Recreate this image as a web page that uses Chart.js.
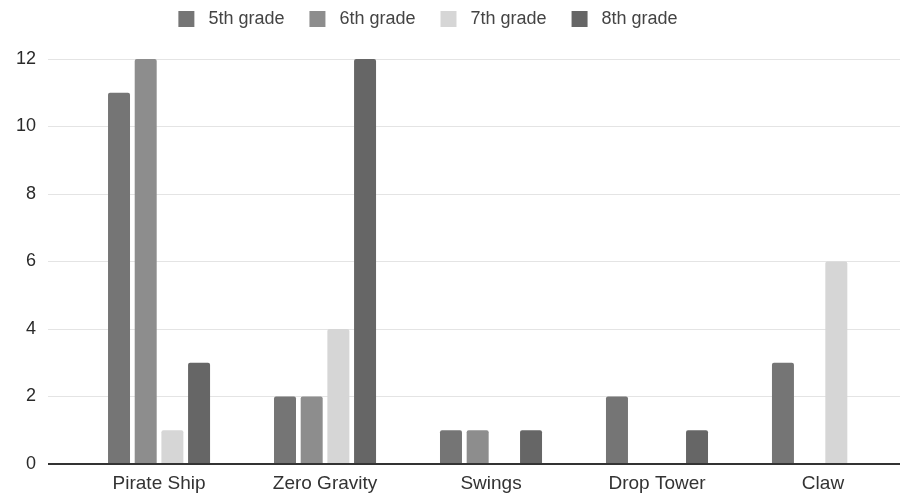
<!DOCTYPE html>
<html lang="en">
<head>
    <meta charset="UTF-8">
    <title>Favorite rides by grade</title>
    <script src="https://cdn.jsdelivr.net/npm/chart.js"></script>
    <style>
        body {
            margin: 0;
            background: #fff;
        }
        #wrap {
            width: 900px;
            height: 496px;
        }
    </style>
</head>
<body>
    <div id="wrap"><canvas id="chart"></canvas></div>

    <script>
        const rides = ['Pirate Ship', 'Zero Gravity', 'Swings', 'Drop Tower', 'Claw'];
        const grades = ['5th grade', '6th grade', '7th grade', '8th grade'];
        const grade5 = [11, 2, 1, 2, 3];
        const grade6 = [12, 2, 1, 0, 0];
        const grade7 = [1, 4, 0, 0, 6];
        const grade8 = [3, 12, 1, 1, 0];
        const yTicks = [0, 2, 4, 6, 8, 10, 12];

        const colors = ['#757575', '#8d8d8d', '#d6d6d6', '#666666'];
        const series = [grade5, grade6, grade7, grade8];

        const datasets = series.map((vals, i) => ({
            label: grades[i],
            data: vals.map((v, k) => ({ x: k, y: v })),
            backgroundColor: colors[i],
            borderRadius: 2,
            borderSkipped: 'bottom',
            categoryPercentage: 0.643,
            barPercentage: 0.824
        }));

        const font = "'Liberation Sans', Arial, sans-serif";
        const legendPad = 25;

        // legend: put the row near the top, leave room down to the plot, shift a bit left
        const legendPlace = {
            id: 'legendPlace',
            beforeInit(chart) {
                const lg = chart.legend;
                const fit = lg.fit;
                lg.fit = function () {
                    fit.call(this);
                    this.height = 59;
                };
            },
            afterLayout(chart) {
                const lg = chart.legend;
                lg.left -= 22;
                lg.right -= 22;
                lg.top = 10 - legendPad;
            }
        };

        new Chart(document.getElementById('chart'), {
            type: 'bar',
            data: { datasets: datasets },
            plugins: [legendPlace],
            options: {
                responsive: true,
                maintainAspectRatio: false,
                animation: false,
                layout: { padding: 0 },
                plugins: {
                    tooltip: { enabled: false },
                    legend: {
                        position: 'top',
                        labels: {
                            boxWidth: 16,
                            boxHeight: 16,
                            padding: legendPad,
                            color: '#444',
                            font: { family: font, size: 18 },
                            generateLabels: chart => Chart.defaults.plugins.legend.labels.generateLabels(chart)
                                .map(l => Object.assign(l, { text: ' ' + l.text }))
                        }
                    }
                },
                scales: {
                    x: {
                        type: 'linear',
                        offset: false,
                        min: -0.669,
                        max: 4.464,
                        afterBuildTicks: s => { s.ticks = rides.map((r, i) => ({ value: i })); },
                        afterFit: s => { s.height = 32; },
                        ticks: {
                            callback: v => rides[v],
                            color: '#333',
                            padding: 8,
                            maxRotation: 0,
                            font: { family: font, size: 19 }
                        },
                        grid: { display: false, drawTicks: false },
                        border: { display: false }
                    },
                    y: {
                        min: 0,
                        max: 12,
                        afterBuildTicks: s => { s.ticks = yTicks.map(v => ({ value: v })); },
                        afterFit: s => { s.width = 48; },
                        ticks: {
                            color: '#2a2a2a',
                            padding: 12,
                            font: { family: font, size: 18 }
                        },
                        grid: {
                            drawTicks: false,
                            color: c => c.tick && c.tick.value === 0 ? '#333' : '#e4e4e4',
                            lineWidth: c => c.tick && c.tick.value === 0 ? 2 : 1
                        },
                        border: { display: false }
                    }
                }
            }
        });
    </script>
</body>
</html>
